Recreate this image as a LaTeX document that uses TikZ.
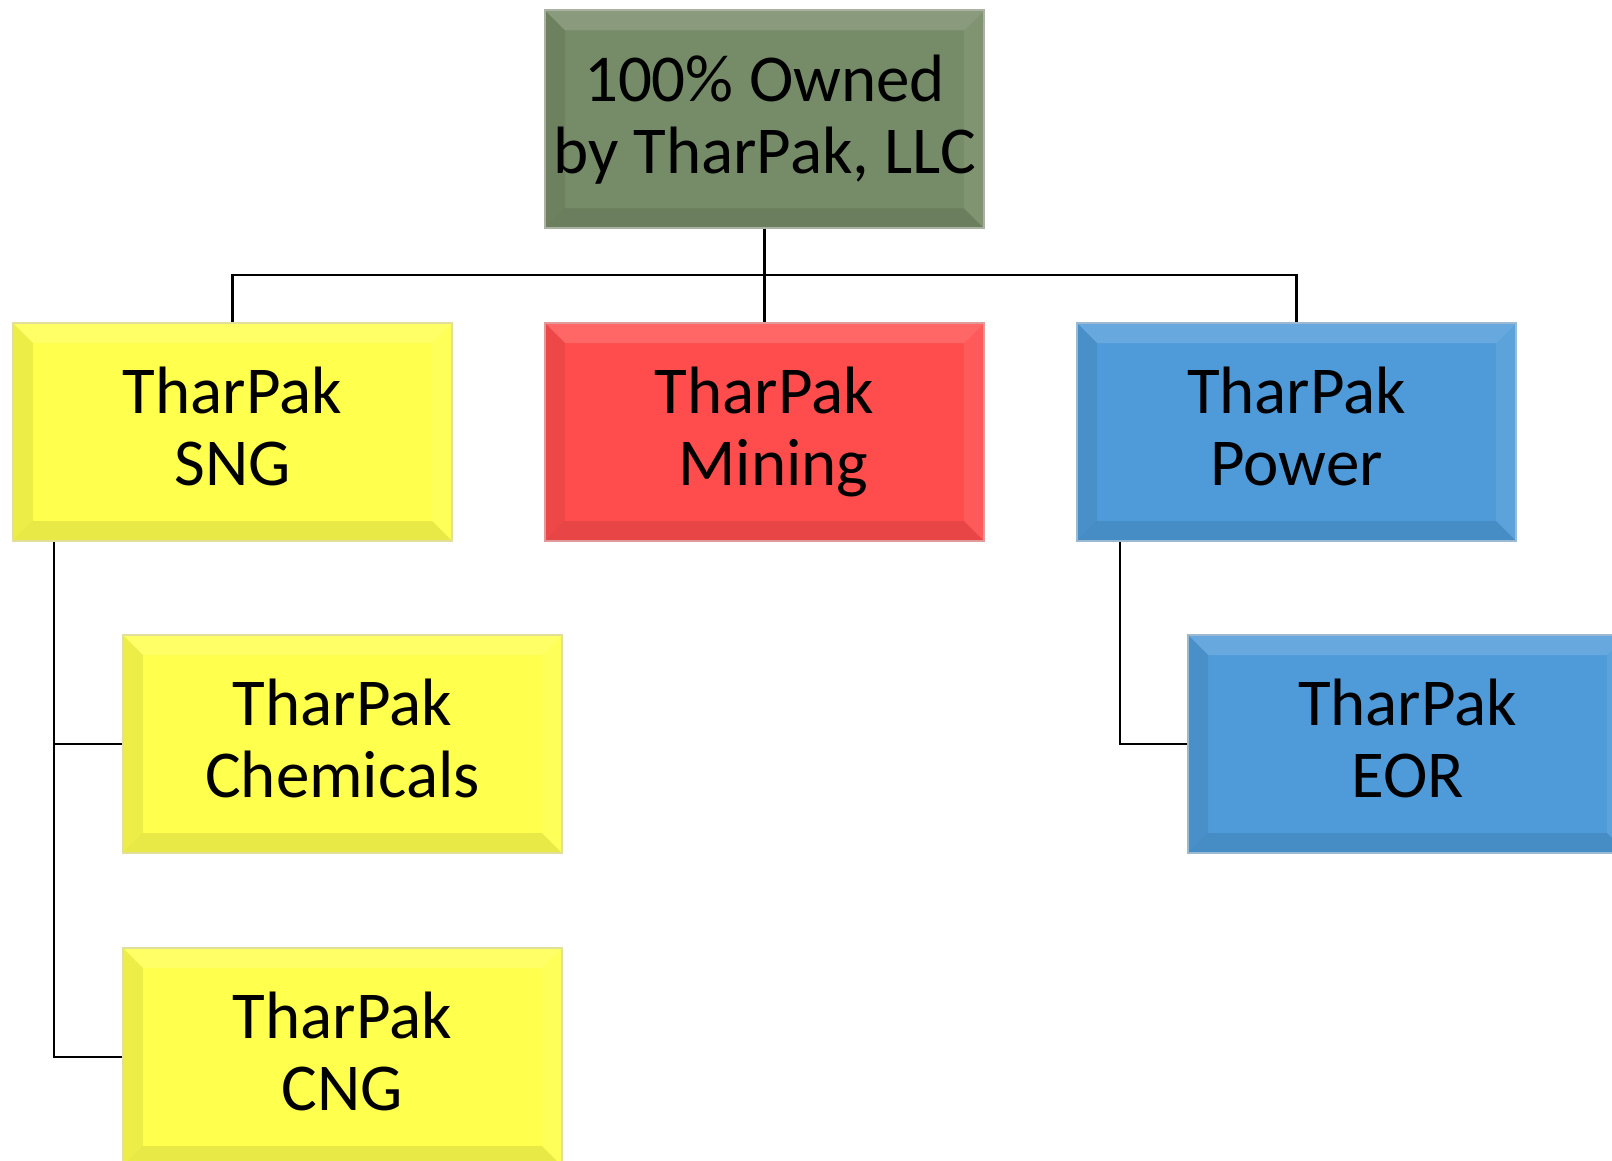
\documentclass[tikz,border=0pt]{standalone}
\usepackage{fontspec}
\setmainfont{Carlito}
\definecolor{cgreen}{RGB}{118,139,103}
\definecolor{cyellow}{RGB}{255,255,77}
\definecolor{cred}{RGB}{255,77,77}
\definecolor{cblue}{RGB}{79,155,217}
\tikzset{
  bevelbox/.style={
    rectangle, fill=#1, draw=#1!45!white!88!black, line width=2pt,
    minimum width=439pt, minimum height=218pt, inner sep=0pt,
    align=center, font=\fontsize{67}{72}\selectfont,
    path picture={
      \fill[white,opacity=.14] (path picture bounding box.north west) -- (path picture bounding box.north east)
        -- ([xshift=-20pt,yshift=-20pt]path picture bounding box.north east) -- ([xshift=20pt,yshift=-20pt]path picture bounding box.north west) -- cycle;
      \fill[black,opacity=.07] (path picture bounding box.north west) -- (path picture bounding box.south west)
        -- ([xshift=20pt,yshift=20pt]path picture bounding box.south west) -- ([xshift=20pt,yshift=-20pt]path picture bounding box.north west) -- cycle;
      \fill[black,opacity=.09] (path picture bounding box.south west) -- (path picture bounding box.south east)
        -- ([xshift=-20pt,yshift=20pt]path picture bounding box.south east) -- ([xshift=20pt,yshift=20pt]path picture bounding box.south west) -- cycle;
      \fill[white,opacity=.08] (path picture bounding box.north east) -- (path picture bounding box.south east)
        -- ([xshift=-20pt,yshift=20pt]path picture bounding box.south east) -- ([xshift=-20pt,yshift=-20pt]path picture bounding box.north east) -- cycle;
    }
  },
  conn/.style={draw=black, line width=2.5pt}
}
\begin{document}
\begin{tikzpicture}[x=1pt,y=-1pt]
\useasboundingbox (0,0) rectangle (1612,1161);
\clip (0,0) rectangle (1612,1161);
\node[bevelbox=cgreen] (own) at (764.5,119.5) {100\% Owned\\by TharPak, LLC};
\node[bevelbox=cyellow] (sng) at (232.5,432) {TharPak\\SNG\vphantom{g}};
\node[bevelbox=cred] (mining) at (764.5,432) {TharPak\\\hspace*{18pt}Mining};
\node[bevelbox=cblue] (power) at (1296.5,432) {TharPak\\Power\vphantom{g}};
\node[bevelbox=cyellow] (chem) at (342.5,744) {TharPak\\Chemicals\vphantom{g}};
\node[bevelbox=cyellow] (cng) at (342.5,1057) {TharPak\\CNG\vphantom{g}};
\node[bevelbox=cblue] (eor) at (1407.5,744) {TharPak\\EOR\vphantom{g}};
\coordinate (bus) at (764.5,275);
\coordinate (sngtap) at ([xshift=42pt]sng.south west);
\coordinate (powtap) at ([xshift=44pt]power.south west);
\draw[conn] (own.south) -- (mining.north);
\draw[conn] (sng.north) |- (bus) -| (power.north);
\draw[conn] (sngtap) |- (chem.west);
\draw[conn] (sngtap) |- (cng.west);
\draw[conn] (powtap) |- (eor.west);
\end{tikzpicture}
\end{document}
